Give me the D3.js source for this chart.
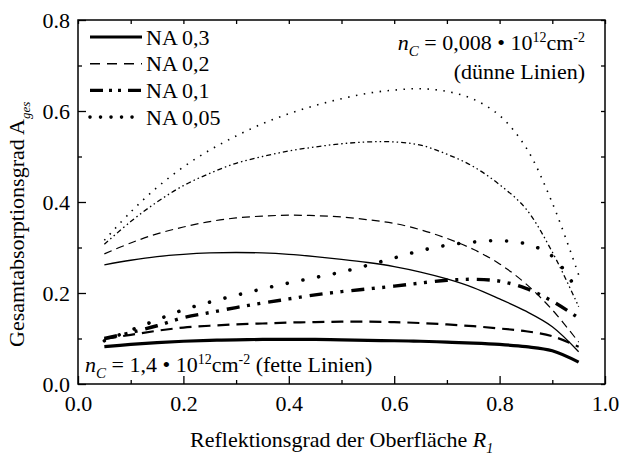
<!DOCTYPE html>
<html>
<head>
<meta charset="utf-8">
<script src="https://cdn.jsdelivr.net/npm/d3@7/dist/d3.min.js"></script>
<style>
  html, body { margin: 0; padding: 0; background: #fff; }
  svg { display: block; }
  svg text { font-family: "Liberation Serif", "Times New Roman", Times, serif; fill: #000; }
</style>
</head>
<body>
<svg id="chart" width="621" height="455" font-family="Liberation Serif, Times New Roman, serif"></svg>
<script>
// Reflectance of the surface R1 (x values shared by every curve)
const reflectance = [0.05, 0.10, 0.15, 0.20, 0.25, 0.30, 0.35, 0.40, 0.45, 0.50,
                     0.55, 0.60, 0.65, 0.70, 0.75, 0.80, 0.85, 0.90, 0.95];

// n_C = 0,008e12 cm^-2 (thin lines)
const thinNA030 = [0.262, 0.272, 0.280, 0.285, 0.288, 0.289, 0.288, 0.285, 0.280, 0.274,
                   0.267, 0.258, 0.246, 0.231, 0.212, 0.187, 0.160, 0.126, 0.071];
const thinNA020 = [0.286, 0.310, 0.330, 0.345, 0.357, 0.365, 0.369, 0.371, 0.370, 0.367,
                   0.361, 0.353, 0.339, 0.320, 0.296, 0.264, 0.220, 0.163, 0.092];
const thinNA010 = [0.307, 0.357, 0.400, 0.436, 0.463, 0.485, 0.500, 0.512, 0.521, 0.528,
                   0.532, 0.532, 0.525, 0.505, 0.478, 0.438, 0.385, 0.290, 0.170];
const thinNA005 = [0.316, 0.378, 0.432, 0.477, 0.514, 0.545, 0.572, 0.594, 0.612, 0.627,
                   0.639, 0.646, 0.649, 0.643, 0.626, 0.590, 0.520, 0.398, 0.240];

// n_C = 1,4e12 cm^-2 (bold lines)
const boldNA030 = [0.082, 0.087, 0.091, 0.094, 0.096, 0.097, 0.098, 0.098, 0.098, 0.097,
                   0.096, 0.095, 0.094, 0.092, 0.090, 0.087, 0.082, 0.073, 0.048];
const boldNA020 = [0.099, 0.108, 0.117, 0.124, 0.128, 0.131, 0.133, 0.135, 0.136, 0.137,
                   0.137, 0.136, 0.134, 0.131, 0.127, 0.122, 0.116, 0.105, 0.082];
const boldNA010 = [0.100, 0.113, 0.128, 0.146, 0.157, 0.168, 0.178, 0.187, 0.196, 0.203,
                   0.209, 0.215, 0.222, 0.228, 0.230, 0.226, 0.210, 0.182, 0.145];
const boldNA005 = [0.095, 0.118, 0.141, 0.163, 0.180, 0.195, 0.209, 0.222, 0.234, 0.246,
                   0.261, 0.277, 0.293, 0.305, 0.312, 0.315, 0.308, 0.281, 0.200];

const legendLabels = ["NA 0,3", "NA 0,2", "NA 0,1", "NA 0,05"];

const xTicks = [0.0, 0.2, 0.4, 0.6, 0.8, 1.0];
const yTicks = [0.0, 0.2, 0.4, 0.6, 0.8];

// Line styles per numerical aperture
const styles = {
  thin: [
    { width: 1.3, dash: null },
    { width: 1.2, dash: "8 5" },
    { width: 1.3, dash: "5 3 1.5 3 1.5 3" },
    { width: 1.6, dash: "1.5 6.5" }
  ],
  bold: [
    { width: 3.2, dash: null, cap: "butt" },
    { width: 2.2, dash: "12 7", cap: "butt" },
    { width: 3.4, dash: "13 7.5 3 7.5 3 8", cap: "butt" },
    { width: 3.6, dash: "0.01 16", cap: "round" }
  ],
  legend: [
    { width: 3.2, dash: null, cap: "butt" },
    { width: 1.6, dash: "10 7", cap: "butt" },
    { width: 3.4, dash: "13 6 3 6 3 7", cap: "butt" },
    { width: 3.6, dash: "0.01 10.5", cap: "round" }
  ]
};

const svg = d3.select("#chart");
const margin = { left: 78, right: 16, top: 20, bottom: 71 };
const W = 621, H = 455;
const x = d3.scaleLinear().domain([0, 1]).range([margin.left, W - margin.right]);
const y = d3.scaleLinear().domain([0, 0.8]).range([H - margin.bottom, margin.top]);

const FONT = 22;
const SERIF = "Liberation Serif, Times New Roman, serif";

// Curves, clipped to the plot area
svg.append("clipPath").attr("id", "plotclip")
  .append("rect")
  .attr("x", x(0)).attr("y", y(0.8))
  .attr("width", x(1) - x(0)).attr("height", y(0) - y(0.8));

const line = d3.line()
  .x(d => x(d[0]))
  .y(d => y(d[1]))
  .curve(d3.curveCatmullRom.alpha(0.5));

const thinSeries = [thinNA030, thinNA020, thinNA010, thinNA005];
const boldSeries = [boldNA030, boldNA020, boldNA010, boldNA005];

const curves = svg.append("g").attr("clip-path", "url(#plotclip)");
function drawSeries(values, st) {
  curves.append("path")
    .datum(reflectance.map((r, i) => [r, values[i]]))
    .attr("d", line)
    .attr("fill", "none")
    .attr("stroke", "#000")
    .attr("stroke-width", st.width)
    .attr("stroke-linecap", st.cap || "butt")
    .attr("stroke-dasharray", st.dash);
}
thinSeries.forEach((v, i) => drawSeries(v, styles.thin[i]));
boldSeries.forEach((v, i) => drawSeries(v, styles.bold[i]));

// Axes: ticks point inward, minor ticks every 0.1
const minorX = d3.range(0.1, 1.0, 0.2).map(v => +v.toFixed(2));
const minorY = d3.range(0.1, 0.8, 0.2).map(v => +v.toFixed(2));
const allX = d3.range(0, 11).map(i => +(i / 10).toFixed(2));
const allY = d3.range(0, 9).map(i => +(i / 10).toFixed(2));

function styleAxis(g) {
  g.attr("font-family", SERIF).attr("font-size", null);
  g.select(".domain").remove();
  g.selectAll(".tick line").attr("stroke", "#000").attr("stroke-width", 1.3);
  g.selectAll("text").attr("font-family", SERIF).style("font-size", FONT + "px").attr("fill", "#000");
}

svg.append("g")
  .attr("transform", `translate(0,${y(0)})`)
  .call(d3.axisBottom(x).tickValues(xTicks).tickFormat(d3.format(".1f"))
    .tickSizeInner(-8).tickSizeOuter(0).tickPadding(11))
  .call(styleAxis);
svg.append("g")
  .attr("transform", `translate(0,${y(0)})`)
  .call(d3.axisBottom(x).tickValues(minorX).tickFormat("").tickSizeInner(-4).tickSizeOuter(0))
  .call(styleAxis);

svg.append("g")
  .attr("transform", `translate(${x(0)},0)`)
  .call(d3.axisLeft(y).tickValues(yTicks).tickFormat(d3.format(".1f"))
    .tickSizeInner(-8).tickSizeOuter(0).tickPadding(8))
  .call(styleAxis);
svg.append("g")
  .attr("transform", `translate(${x(0)},0)`)
  .call(d3.axisLeft(y).tickValues(minorY).tickFormat("").tickSizeInner(-4).tickSizeOuter(0))
  .call(styleAxis);

// Mirrored ticks on top and right
svg.append("g")
  .attr("transform", `translate(0,${y(0.8)})`)
  .call(d3.axisTop(x).tickValues(allX).tickFormat("").tickSizeInner(-4).tickSizeOuter(0))
  .call(styleAxis);
svg.append("g")
  .attr("transform", `translate(${x(1)},0)`)
  .call(d3.axisRight(y).tickValues(allY).tickFormat("").tickSizeInner(-4).tickSizeOuter(0))
  .call(styleAxis);

// Frame
svg.append("rect")
  .attr("x", x(0)).attr("y", y(0.8))
  .attr("width", x(1) - x(0)).attr("height", y(0) - y(0.8))
  .attr("fill", "none").attr("stroke", "#000").attr("stroke-width", 1.5);

// Legend
const legend = svg.append("g");
legendLabels.forEach((lab, i) => {
  const ly = 37 + i * 26.7;
  const st = styles.legend[i];
  legend.append("line")
    .attr("x1", 90).attr("x2", 142).attr("y1", ly).attr("y2", ly)
    .attr("stroke", "#000").attr("stroke-width", st.width)
    .attr("stroke-linecap", st.cap).attr("stroke-dasharray", st.dash);
  legend.append("text")
    .attr("x", 146).attr("y", ly + 7.5)
    .attr("font-family", SERIF)
    .style("font-size", FONT + "px")
    .text(lab);
});

// Annotation helper: n_C = value • 10^12 cm^-2
function carrierLabel(sel, value, tail) {
  sel.append("tspan").attr("font-style", "italic").text("n");
  sel.append("tspan").attr("font-style", "italic").attr("dy", 6).style("font-size", "15px").text("C");
  sel.append("tspan").attr("dy", -6).text(" = " + value + " \u2022 10");
  sel.append("tspan").attr("dy", -8).style("font-size", "14px").text("12");
  sel.append("tspan").attr("dy", 8).text("cm");
  sel.append("tspan").attr("dy", -8).style("font-size", "14px").text("-2");
  if (tail) sel.append("tspan").attr("dy", 8).text(tail);
}

const topNote = svg.append("text")
  .attr("x", 585).attr("y", 50)
  .attr("text-anchor", "end")
  .attr("font-family", SERIF)
  .style("font-size", FONT + "px");
carrierLabel(topNote, "0,008", null);

svg.append("text")
  .attr("x", 585).attr("y", 79)
  .attr("text-anchor", "end")
  .attr("font-family", SERIF)
  .style("font-size", FONT + "px")
  .text("(dünne Linien)");

const bottomNote = svg.append("text")
  .attr("x", 85).attr("y", 372)
  .attr("font-family", SERIF)
  .style("font-size", FONT + "px");
carrierLabel(bottomNote, "1,4", " (fette Linien)");

// Axis titles
const xTitle = svg.append("text")
  .attr("x", 190).attr("y", 447)
  .attr("font-family", SERIF)
  .style("font-size", FONT + "px");
xTitle.append("tspan").text("Reflektionsgrad der Oberfläche ");
xTitle.append("tspan").attr("font-style", "italic").text("R");
xTitle.append("tspan").attr("font-style", "italic").attr("dy", 6).style("font-size", "14px").text("1");

const yTitle = svg.append("text")
  .attr("transform", "translate(24,347) rotate(-90)")
  .attr("font-family", SERIF)
  .style("font-size", FONT + "px");
yTitle.append("tspan").text("Gesamtabsorptionsgrad A");
yTitle.append("tspan").attr("font-style", "italic").attr("dy", 6).style("font-size", "13px").text("ges");
</script>
</body>
</html>
